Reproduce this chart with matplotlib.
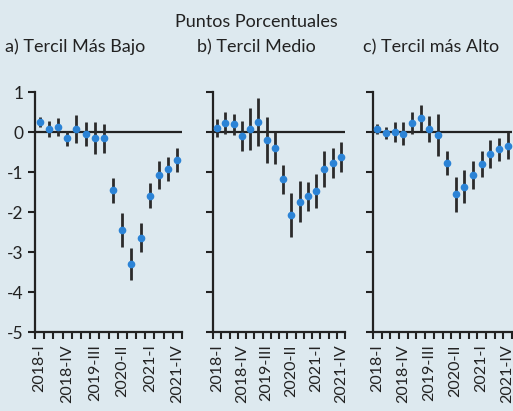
"""
Efecto por tercil: puntos porcentuales con intervalos de confianza,
tres paneles (tercil bajo, medio, alto), 2018-I a 2021-IV.
"""

import matplotlib
matplotlib.use("Agg")
import matplotlib.pyplot as plt
import numpy as np

plt.rcParams["font.family"] = ["Lato", "DejaVu Sans"]

QUARTERS = [
    "2018-I", "2018-II", "2018-III", "2018-IV",
    "2019-I", "2019-II", "2019-III", "2019-IV",
    "2020-I", "2020-II", "2020-III", "2020-IV",
    "2021-I", "2021-II", "2021-III", "2021-IV",
]
LABELED = [0, 3, 6, 9, 12, 15]

PANEL_TITLES = ["a) Tercil Más Bajo", "b) Tercil Medio", "c) Tercil más Alto"]

low_est = [0.25, 0.08, 0.13, -0.16, 0.08, -0.04, -0.16, -0.16,
           -1.46, -2.45, -3.30, -2.64, -1.59, -1.07, -0.93, -0.69]
low_err = [0.12, 0.20, 0.22, 0.18, 0.35, 0.30, 0.40, 0.37,
           0.32, 0.42, 0.40, 0.37, 0.32, 0.35, 0.30, 0.30]

mid_est = [0.10, 0.23, 0.19, -0.10, 0.08, 0.25, -0.20, -0.40,
           -1.18, -2.07, -1.74, -1.61, -1.47, -0.92, -0.78, -0.63]
mid_err = [0.22, 0.28, 0.27, 0.37, 0.53, 0.60, 0.58, 0.40,
           0.36, 0.55, 0.52, 0.37, 0.43, 0.45, 0.37, 0.37]

high_est = [0.07, -0.02, 0.00, -0.04, 0.23, 0.35, 0.07, -0.07,
            -0.78, -1.56, -1.37, -1.08, -0.80, -0.55, -0.43, -0.34]
high_err = [0.12, 0.15, 0.25, 0.28, 0.28, 0.32, 0.33, 0.52,
            0.30, 0.44, 0.41, 0.35, 0.33, 0.34, 0.29, 0.33]

BG = "#dde9ef"
DOT = "#2b83d6"
INK = "#222222"

W, H = 513, 411
fig = plt.figure(figsize=(W / 100, H / 100), dpi=100, facecolor=BG)


def px_axes(left, right, top, bottom):
    return fig.add_axes([left / W, 1 - bottom / H, (right - left) / W, (bottom - top) / H])


axes = [
    px_axes(35, 182, 92, 332),
    px_axes(213, 345, 92, 332),
    px_axes(373, 512, 92, 332),
]

series = [(low_est, low_err), (mid_est, mid_err), (high_est, high_err)]
x = np.arange(len(QUARTERS))

for i, (ax, (est, err)) in enumerate(zip(axes, series)):
    ax.set_facecolor(BG)
    ax.axhline(0, color=INK, lw=1.6, zorder=1)
    ax.errorbar(x, est, yerr=err, fmt="none", ecolor="#2b2b2b", elinewidth=2.0,
                capsize=0, zorder=2)
    ax.plot(x, est, "o", color=DOT, ms=4.5, mec=DOT, zorder=3)

    ax.set_xlim(-0.5, len(QUARTERS) - 0.5)
    ax.set_ylim(-5, 1)
    ax.set_yticks(range(-5, 2))
    if i == 0:
        ax.set_yticklabels([str(v) for v in range(-5, 2)], fontsize=12.5, color=INK)
    else:
        ax.set_yticklabels([])

    ax.set_xticks(np.arange(-0.5, len(QUARTERS)), labels=[])
    ax.set_xticks(LABELED, labels=[QUARTERS[k] for k in LABELED], minor=True,
                  rotation=90, fontsize=11.5, color=INK)
    ax.tick_params(axis="x", which="minor", length=0, pad=9)
    ax.tick_params(axis="both", which="major", length=5, width=1.5, color=INK)

    for side in ["top", "right"]:
        ax.spines[side].set_visible(False)
    for side in ["left", "bottom"]:
        ax.spines[side].set_linewidth(1.6)
        ax.spines[side].set_color(INK)

fig.text(0.5, 1 - 22 / H, "Puntos Porcentuales", ha="center", va="center",
         fontsize=13, color=INK)
for x_px, title in zip([5, 197, 363], PANEL_TITLES):
    fig.text(x_px / W, 1 - 47 / H, title, ha="left", va="center", fontsize=13, color=INK)

fig.savefig("out.png", dpi=100, facecolor=BG)
